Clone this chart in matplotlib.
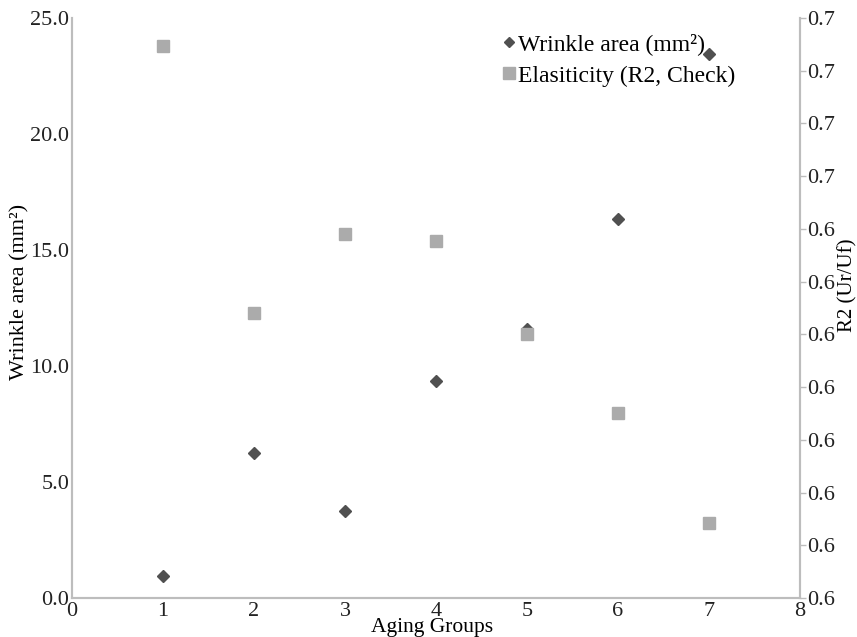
import matplotlib
matplotlib.use("Agg")
import matplotlib.pyplot as plt
import numpy as np

plt.rcParams['font.family'] = ['Liberation Serif', 'DejaVu Serif']

# data
groups = [1, 2, 3, 4, 5, 6, 7]
wrinkle_area = [0.95, 6.25, 3.75, 9.35, 11.6, 16.35, 23.45]
elasticity = [0.6747, 0.6240, 0.6390, 0.6377, 0.6201, 0.6051, 0.5842]

left_ticks = [0, 5, 10, 15, 20, 25]
left_labels = ['0.0', '5.0', '10.0', '15.0', '20.0', '25.0']
right_ticks = [0.57, 0.58, 0.59, 0.60, 0.61, 0.62, 0.63, 0.64, 0.65, 0.66, 0.67, 0.68]
right_labels = ['0.6'] * 8 + ['0.7'] * 4

DARK = '#505050'
LIGHT = '#ababab'
SPINE = '#bdbdbd'

fig = plt.figure(figsize=(8.57, 6.37), dpi=100)
ax = fig.add_axes([0.084, 0.061, 0.8495, 0.911])
ax2 = ax.twinx()

l1, = ax.plot(groups, wrinkle_area, linestyle='none', marker='D', markersize=6.5,
              color=DARK, label='Wrinkle area (mm²)')
l2, = ax2.plot(groups, elasticity, linestyle='none', marker='s', markersize=9,
               color=LIGHT, label='Elasiticity (R2, Check)')

ax.set_xlim(0, 8)
ax.set_ylim(0, 25)
ax2.set_ylim(0.57, 0.68)

ax.set_xticks(range(0, 9))
ax.set_yticks(left_ticks)
ax.set_yticklabels(left_labels)
ax2.set_yticks(right_ticks)
ax2.set_yticklabels(right_labels)

for a in (ax, ax2):
    a.spines['top'].set_visible(False)
    for s in ('left', 'right', 'bottom'):
        a.spines[s].set_color(SPINE)
        a.spines[s].set_linewidth(1.5)

ax.tick_params(axis='both', length=0, labelsize=16, colors='#222222')
ax.tick_params(axis='y', pad=2)
ax.tick_params(axis='x', pad=3)
ax2.tick_params(axis='y', length=4, width=1, color=SPINE, labelsize=16,
                labelcolor='#222222', pad=1)

ax.set_xlabel('Aging Groups', fontsize=15.5)
ax.xaxis.set_label_coords(0.495, -0.034)
ax.set_ylabel('Wrinkle area (mm²)', fontsize=16)
ax.yaxis.set_label_coords(-0.058, 0.528)
ax2.set_ylabel('R2 (Ur/Uf)', fontsize=15)
ax2.yaxis.set_label_coords(1.052, 0.54)

leg = ax.legend(handles=[l1, l2], loc='upper right', bbox_to_anchor=(0.93, 0.998),
                frameon=False, fontsize=17, handlelength=0.5, handletextpad=0.1,
                labelspacing=0.42, borderaxespad=0.2)
leg.legend_handles[0].set_markersize(5)
leg.legend_handles[1].set_markersize(8)

fig.savefig('out.png', dpi=100)
